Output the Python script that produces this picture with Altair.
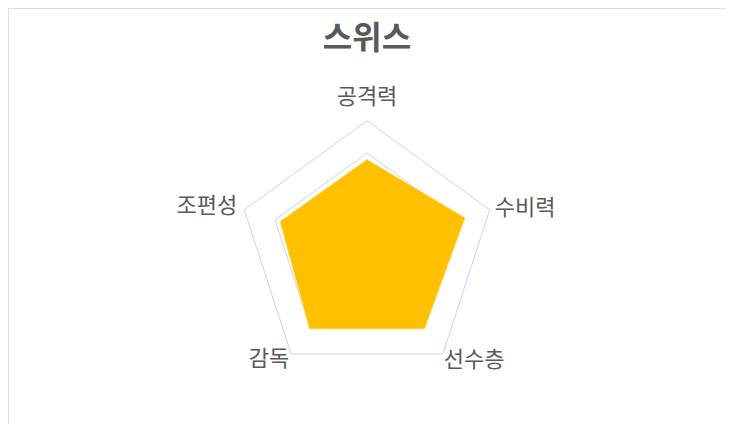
import altair as alt
import pandas as pd

categories = ["공격력", "수비력", "선수층", "감독", "조편성"]
values = [70, 80, 76, 76, 71]
grid_levels = [75, 100]
title_text = "스위스"

n = len(categories)
data = pd.DataFrame({"cat": categories, "value": values, "idx": list(range(n))})
grid = pd.DataFrame([{"level": lv, "idx": i} for lv in grid_levels for i in range(n)])
labels = pd.DataFrame({"cat": categories, "idx": list(range(n)), "level": [100] * n})

FONT = "Noto Sans CJK KR"
TXT = "#595959"
W, H = 718, 416
CX, CY, R = 359, 241.7, 129.0
xdom = [-CX / R * 100, (W - CX) / R * 100]
ydom = [-(H - CY) / R * 100, CY / R * 100]

xs = alt.Scale(domain=xdom, nice=False, zero=False)
ys = alt.Scale(domain=ydom, nice=False, zero=False)


def polar(chart, field):
    return chart.transform_calculate(
        ang=f"datum.idx * 2 * PI / {n}"
    ).transform_calculate(
        px=f"datum.{field} * sin(datum.ang)",
        py=f"datum.{field} * cos(datum.ang)",
    )


grid_layer = polar(alt.Chart(grid), "level").mark_line(
    interpolate="linear-closed", stroke="#c4d9e8", strokeWidth=1
).encode(
    x=alt.X("px:Q", scale=xs, axis=None),
    y=alt.Y("py:Q", scale=ys, axis=None),
    detail="level:N",
    order="idx:Q",
)

area_layer = polar(alt.Chart(data), "value").mark_line(
    interpolate="linear-closed", fill="#FFC000", stroke="#ffe08a", strokeWidth=1
).encode(
    x=alt.X("px:Q", scale=xs, axis=None),
    y=alt.Y("py:Q", scale=ys, axis=None),
    order="idx:Q",
)


def label_layer(names, align, baseline, dx, dy):
    return polar(alt.Chart(labels), "level").transform_filter(
        alt.FieldOneOfPredicate(field="cat", oneOf=names)
    ).mark_text(
        font=FONT, fontSize=22, color=TXT, align=align, baseline=baseline, dx=dx, dy=dy
    ).encode(
        x=alt.X("px:Q", scale=xs, axis=None),
        y=alt.Y("py:Q", scale=ys, axis=None),
        text="cat:N",
    )


lbl_top = label_layer(["공격력"], "center", "bottom", 0, -12)
lbl_right = label_layer(["수비력"], "left", "middle", 5, -2)
lbl_left = label_layer(["조편성"], "right", "middle", -7, -4)
lbl_br = label_layer(["선수층"], "left", "middle", 1, 6)
lbl_bl = label_layer(["감독"], "right", "middle", -2, 5)

title_layer = alt.Chart(pd.DataFrame({"t": [title_text]})).mark_text(
    font=FONT, fontSize=32, fontWeight="bold", color=TXT, align="center", baseline="middle"
).encode(
    x=alt.value(CX),
    y=alt.value(31),
    text="t:N",
)

chart = alt.layer(
    grid_layer, area_layer, lbl_top, lbl_right, lbl_left, lbl_br, lbl_bl, title_layer
).properties(
    width=W, height=H, autosize="none", padding=0
).configure_view(strokeWidth=0).configure(background="white")

chart.save("out.html", embed_options={"renderer": "svg", "actions": False})
